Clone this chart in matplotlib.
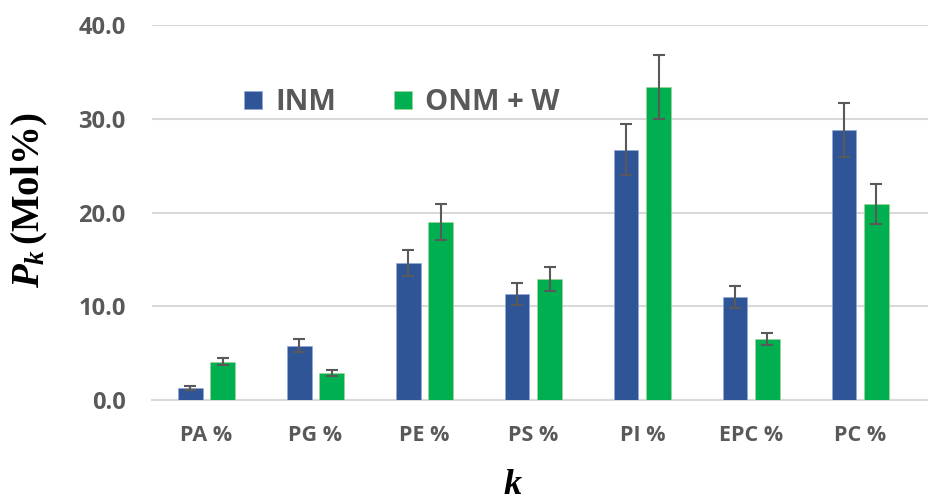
import matplotlib
matplotlib.use("Agg")
import matplotlib.pyplot as plt
import numpy as np

categories = ["PA %", "PG %", "PE %", "PS %", "PI %", "EPC %", "PC %"]
inm = [1.3, 5.8, 14.6, 11.3, 26.7, 11.0, 28.8]
inm_err = [0.2, 0.7, 1.4, 1.2, 2.7, 1.2, 2.9]
onm = [4.1, 2.9, 19.0, 12.9, 33.4, 6.5, 20.9]
onm_err = [0.4, 0.3, 1.9, 1.3, 3.4, 0.6, 2.1]
yticks = [0.0, 10.0, 20.0, 30.0, 40.0]

blue = "#2F5597"
green = "#00B050"
grey = "#595959"

plt.rcParams["mathtext.fontset"] = "custom"
plt.rcParams["mathtext.it"] = "Liberation Serif:bold:italic"
plt.rcParams["mathtext.rm"] = "Liberation Serif:bold"
plt.rcParams["mathtext.bf"] = "Liberation Serif:bold"

fig = plt.figure(figsize=(9.29, 5.0), dpi=100)
ax = fig.add_axes([0.1636, 0.2, 0.8364, 0.75])

x = np.arange(len(categories))
w = 0.224
off = 0.148
ekw = dict(ecolor=grey, elinewidth=1.5, capsize=4, capthick=1.5)
ax.bar(x - off, inm, w, yerr=inm_err, color=blue, edgecolor="#8FAADC",
       linewidth=0.4, label="INM", error_kw=ekw, zorder=3)
ax.bar(x + off, onm, w, yerr=onm_err, color=green, edgecolor="#A9D18E",
       linewidth=0.4, label="ONM + W", error_kw=ekw, zorder=3)

ax.set_xlim(-0.5, 6.63)
ax.set_ylim(0, 40)
ax.set_yticks(yticks)
ax.set_yticklabels([f"{v:.1f}" for v in yticks])
ax.set_xticks(x)
ax.set_xticklabels(categories)
ax.yaxis.grid(True, color="#D9D9D9", linewidth=1.5, zorder=0)
ax.set_axisbelow(True)
for s in ["top", "right", "left"]:
    ax.spines[s].set_visible(False)
ax.spines["bottom"].set_color("#D9D9D9")
ax.spines["bottom"].set_linewidth(1.5)
ax.tick_params(length=0)
ax.tick_params(axis="y", pad=19)
ax.tick_params(axis="x", pad=18)
for lab in ax.get_yticklabels():
    lab.set_fontfamily("Open Sans")
    lab.set_fontweight("bold")
    lab.set_fontsize(17)
    lab.set_color(grey)
for lab in ax.get_xticklabels():
    lab.set_fontfamily("Open Sans")
    lab.set_fontweight("bold")
    lab.set_fontsize(15.5)
    lab.set_color(grey)

fig.text(0.032, 0.6, r"$P_k\,$(Mol%)", rotation=90, ha="center",
         va="center", fontsize=28, fontweight="bold", family="Liberation Serif")
fig.text(0.552, 0.03, "k", ha="center", va="center", fontsize=26,
         fontweight="bold", style="italic", family="Liberation Serif")

leg = ax.legend(loc="center left", bbox_to_anchor=(0.085, 0.792), ncol=2,
                frameon=False, handlelength=0.6, handleheight=0.6,
                handletextpad=0.45, columnspacing=2.0,
                prop={"family": "Open Sans", "weight": "bold", "size": 21})
for t in leg.get_texts():
    t.set_color(grey)

fig.savefig("out.png", dpi=100)
